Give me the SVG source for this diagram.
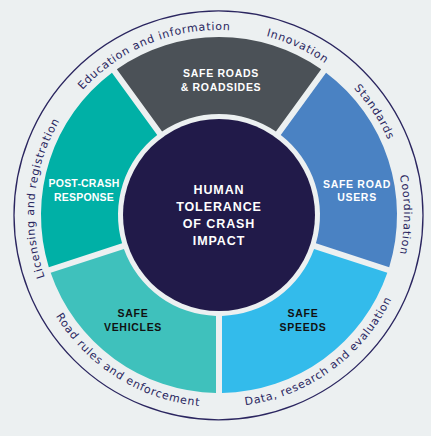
<svg xmlns="http://www.w3.org/2000/svg" width="431" height="436" viewBox="0 0 431 436">
  <defs>
    <style>
      .seg-label { font-family: "Liberation Sans", Arial, sans-serif; font-weight: bold; font-size: 10.5px; letter-spacing: 0.7px; text-anchor: middle; }
      .white { fill: #ffffff; }
      .black { fill: #111111; }
      .core-label { font-family: "Liberation Sans", Arial, sans-serif; font-weight: bold; font-size: 12.5px; letter-spacing: 0.9px; text-anchor: middle; fill: #ffffff; }
      .ring-label { font-family: "DejaVu Sans", "Liberation Sans", sans-serif; font-size: 11px; letter-spacing: 0.75px; fill: #2A2660; text-anchor: middle; }
    </style>
    <path id="cwArc" d="M219,400 A185,185 0 1 1 219,30 A185,185 0 1 1 219,400"/>
    <path id="ccwArc" d="M219,23 A192,192 0 1 0 219,407 A192,192 0 1 0 219,23"/>
  </defs>

  <rect x="0" y="0" width="431" height="436" fill="#ECF0F1"/>

  <g id="outer-ring">
    <circle cx="218.5" cy="215.3" r="204.5" fill="none" stroke="#2B2660" stroke-width="1.3"/>
  </g>

  <g id="ring-labels">
    <text class="ring-label"><textPath href="#cwArc" startOffset="43.89%">Education and information</textPath></text>
    <text class="ring-label"><textPath href="#cwArc" startOffset="56.94%">Innovation</textPath></text>
    <text class="ring-label"><textPath href="#cwArc" startOffset="65.69%">Standards</textPath></text>
    <text class="ring-label"><textPath href="#cwArc" startOffset="75%">Coordination</textPath></text>
    <text class="ring-label"><textPath href="#cwArc" startOffset="26.53%">Licensing and registration</textPath></text>
    <text class="ring-label"><textPath href="#ccwArc" startOffset="41.11%">Road rules and enforcement</textPath></text>
    <text class="ring-label"><textPath href="#ccwArc" startOffset="60%">Data, research and evaluation</textPath></text>
  </g>

  <g id="safe-roads">
    <path d="M116.83,69.24 A178,178 0 0 1 321.17,69.24 L275.92,131.56 A101,101 0 0 0 162.08,131.56 Z" fill="#4B5157"/>
    <text class="seg-label white" x="221" y="76.5">SAFE ROADS</text>
    <text class="seg-label white" x="221" y="90.5">&amp; ROADSIDES</text>
  </g>

  <g id="safe-road-users">
    <path d="M326.05,72.78 A178,178 0 0 1 389.19,267.14 L315.94,243.35 A101,101 0 0 0 280.77,135.09 Z" fill="#4A82C3"/>
    <text class="seg-label white" x="357" y="187.5">SAFE ROAD</text>
    <text class="seg-label white" x="357" y="201">USERS</text>
  </g>

  <g id="safe-speeds">
    <path d="M387.34,272.84 A178,178 0 0 1 222,392.97 L222,315.96 A101,101 0 0 0 314.08,249.05 Z" fill="#33BBEB"/>
    <text class="seg-label black" x="303" y="316.5">SAFE</text>
    <text class="seg-label black" x="303" y="330.5">SPEEDS</text>
  </g>

  <g id="safe-vehicles">
    <path d="M216,392.97 A178,178 0 0 1 50.66,272.84 L123.92,249.05 A101,101 0 0 0 216,315.96 Z" fill="#3FC1BC"/>
    <text class="seg-label black" x="133" y="316.5">SAFE</text>
    <text class="seg-label black" x="133" y="330.5">VEHICLES</text>
  </g>

  <g id="post-crash-response">
    <path d="M48.81,267.14 A178,178 0 0 1 111.95,72.78 L157.23,135.09 A101,101 0 0 0 122.06,243.35 Z" fill="#00B0A6"/>
    <text class="seg-label white" x="84" y="187" style="letter-spacing:0.2px">POST-CRASH</text>
    <text class="seg-label white" x="84" y="201" style="letter-spacing:0.2px">RESPONSE</text>
  </g>

  <g id="human-tolerance">
    <circle cx="219" cy="215" r="96" fill="#211A49"/>
    <text class="core-label" x="219" y="194">HUMAN</text>
    <text class="core-label" x="219" y="211">TOLERANCE</text>
    <text class="core-label" x="219" y="228">OF CRASH</text>
    <text class="core-label" x="219" y="245">IMPACT</text>
  </g>
</svg>
